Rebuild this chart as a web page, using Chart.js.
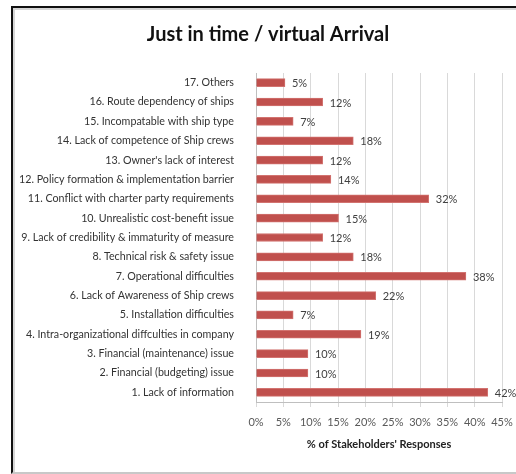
<!DOCTYPE html>
<html>
<head>
<meta charset="utf-8">
<script src="https://cdn.jsdelivr.net/npm/chart.js@4/dist/chart.umd.min.js"></script>
<style>
  html, body { margin: 0; padding: 0; background: #fff; }
  #wrap { position: relative; width: 516px; height: 474px; overflow: hidden; }
  #frame {
    position: absolute; left: 11px; top: 6px; width: 520px; height: 464px;
    border-top: 2px solid #111; border-left: 2px solid #111; border-bottom: 2px solid #c8c8c8;
    box-shadow: inset 2px 2px 0 #d6d6d6;
  }
  canvas { position: absolute; left: 0; top: 0; }
</style>
</head>
<body>
<div id="wrap">
  <div id="frame"></div>
  <canvas id="myChartBar" width="516" height="474"></canvas>
</div>
<script>
// categories top to bottom, as in the picture
const categories = [
  '17. Others',
  '16. Route dependency of ships',
  '15. Incompatable with ship type',
  '14. Lack of competence of Ship crews',
  "13. Owner's lack of interest",
  '12. Policy formation & implementation barrier',
  '11. Conflict with charter party requirements',
  '10. Unrealistic cost-benefit issue',
  '9. Lack of credibility & immaturity of measure',
  '8. Technical risk & safety issue',
  '7. Operational difficulties',
  '6. Lack of Awareness of Ship crews',
  '5. Installation difficulties',
  '4. Intra-organizational diffculties in company',
  '3. Financial (maintenance) issue',
  '2. Financial (budgeting) issue',
  '1. Lack of information'
];
// % of stakeholders' responses
const responses = [5.3, 12.2, 6.8, 17.8, 12.2, 13.7, 31.6, 15.1, 12.2, 17.8, 38.4, 21.9, 6.8, 19.2, 9.5, 9.5, 42.4];
const xTicks = [0, 5, 10, 15, 20, 25, 30, 35, 40, 45];
const chartTitle = 'Just in time / virtual Arrival';

const labelFont = "Lato, 'Open Sans', sans-serif";

// percent labels after each bar, plus the title (drawn a bit right of centre like the original)
const barLabels = {
  id: 'barLabels',
  afterDatasetsDraw(chart) {
    const ctx = chart.ctx;
    const meta = chart.getDatasetMeta(0);
    ctx.save();
    ctx.font = '11px ' + labelFont;
    ctx.fillStyle = '#404040';
    ctx.textAlign = 'left';
    ctx.textBaseline = 'middle';
    meta.data.forEach((bar, i) => {
      ctx.fillText(Math.round(responses[i]) + '%', bar.x + 7, bar.y + 1);
    });

    ctx.font = 'bold 20px ' + labelFont;
    ctx.fillStyle = '#111';
    ctx.textAlign = 'center';
    ctx.fillText(chartTitle, 268, 35);
    ctx.restore();
  }
};

var ctx = document.getElementById('myChartBar');

new Chart(ctx, {
  type: 'bar',
  data: {
    labels: categories,
    datasets: [{
      data: responses,
      backgroundColor: '#c0504d',
      borderColor: '#d27370',
      borderWidth: 1,
      barThickness: 8
    }]
  },
  options: {
    indexAxis: 'y',
    responsive: false,
    animation: false,
    layout: { padding: { left: 0, right: 14, top: 73, bottom: 0 } },
    plugins: {
      legend: { display: false },
      tooltip: { enabled: false },
      title: { display: false }
    },
    scales: {
      x: {
        min: 0,
        max: 45,
        afterBuildTicks: (scale) => { scale.ticks = xTicks.map(v => ({ value: v })); },
        afterFit: (scale) => {
          scale.height = 72;
          scale.paddingRight = 0;
        },
        grid: { color: '#d9d9d9', tickLength: 5, tickColor: '#d9d9d9' },
        border: { color: '#bfbfbf' },
        ticks: {
          padding: 9,
          maxRotation: 0,
          minRotation: 0,
          autoSkip: false,
          color: '#595959',
          font: { family: labelFont, size: 11 },
          callback: (v) => v + '%'
        },
        title: {
          display: true,
          text: "% of Stakeholders' Responses",
          color: '#222',
          font: { family: labelFont, size: 11, weight: 'bold' },
          padding: { top: 0, bottom: 23 }
        }
      },
      y: {
        afterFit: (scale) => { scale.width = 256; },
        grid: { display: false },
        border: { color: '#bfbfbf' },
        ticks: {
          padding: 14,
          color: '#333',
          font: { family: labelFont, size: 10.7 },
          autoSkip: false
        }
      }
    }
  },
  plugins: [barLabels]
});
</script>
</body>
</html>
